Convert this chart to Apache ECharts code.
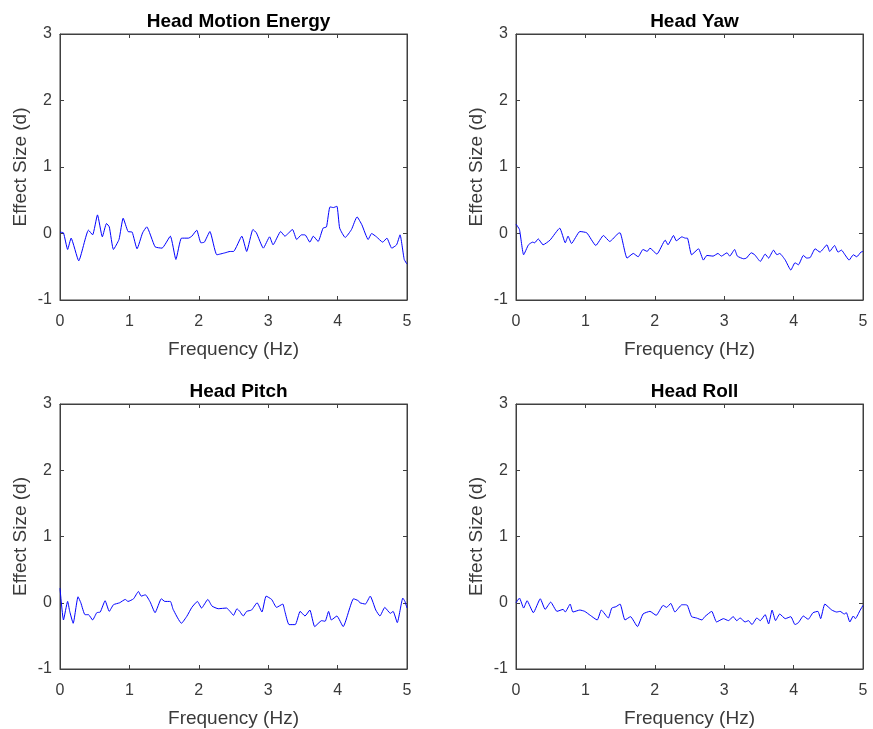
<!DOCTYPE html>
<html>
<head>
<meta charset="utf-8">
<script src="https://cdn.jsdelivr.net/npm/echarts@6/dist/echarts.min.js"></script>
<style>
  html, body { margin: 0; padding: 0; background: #fff; }
  #main { width: 873px; height: 729px; }
</style>
</head>
<body>
<div id="main"></div>
<script>
// panel titles
const titles = ['Head Motion Energy', 'Head Yaw', 'Head Pitch', 'Head Roll'];
const xTicks = [0, 1, 2, 3, 4, 5];
const yTicks = [-1, 0, 1, 2, 3];

// Head Motion Energy
const energyFreq = [0.00, 0.05, 0.11, 0.16, 0.27, 0.41, 0.47, 0.54, 0.61, 0.67, 0.71, 0.77, 0.85, 0.91, 0.98, 1.04, 1.11, 1.19, 1.25, 1.37, 1.47, 1.59, 1.67, 1.75, 1.85, 1.90, 1.97, 2.03, 2.08, 2.16, 2.26, 2.38,
  2.45, 2.50, 2.62, 2.69, 2.78, 2.83, 2.93, 3.02, 3.07, 3.18, 3.24, 3.35, 3.41, 3.48, 3.53, 3.60, 3.65, 3.72, 3.79, 3.84, 3.89, 3.94, 3.99, 4.03, 4.11, 4.20, 4.28, 4.35, 4.44, 4.49, 4.56, 4.65, 4.71, 4.78, 4.85, 4.90, 4.96, 5.00];
const energyD = [0.02, 0.01, -0.24, -0.07, -0.41, 0.05, -0.02, 0.28, -0.05, 0.15, 0.10, -0.24, -0.09, 0.23, 0.03, 0.02, -0.23, 0.01, 0.10, -0.20, -0.22, -0.04, -0.39, -0.07, -0.07, -0.04, 0.05, -0.14, -0.13, 0.03, -0.32, -0.29,
  -0.27, -0.27, -0.04, -0.27, 0.06, 0.01, -0.22, -0.05, -0.17, 0.03, -0.04, 0.06, -0.09, -0.02, -0.02, -0.13, -0.04, -0.12, 0.08, 0.10, 0.40, 0.39, 0.41, 0.08, -0.06, 0.06, 0.25, 0.13, -0.09, 0.00, -0.05, -0.13, -0.07, -0.22, -0.17, -0.02, -0.39, -0.46];

// Head Yaw
const yawFreq = [0.00, 0.05, 0.11, 0.18, 0.24, 0.27, 0.32, 0.39, 0.49, 0.63, 0.71, 0.75, 0.80, 0.92, 1.02, 1.15, 1.26, 1.35, 1.47, 1.50, 1.60, 1.69, 1.76, 1.83, 1.89, 1.93, 2.03, 2.15, 2.19, 2.27, 2.31, 2.39,
  2.44, 2.47, 2.53, 2.63, 2.70, 2.75, 2.84, 2.91, 2.96, 3.04, 3.08, 3.15, 3.19, 3.28, 3.32, 3.39, 3.44, 3.52, 3.59, 3.64, 3.71, 3.76, 3.80, 3.88, 3.96, 4.02, 4.07, 4.14, 4.19, 4.24, 4.31, 4.38, 4.48, 4.52, 4.59, 4.64, 4.69, 4.74, 4.80, 4.86, 4.91, 4.97, 5.00];
const yawD = [0.14, 0.06, -0.32, -0.17, -0.13, -0.14, -0.08, -0.17, -0.10, 0.08, -0.14, -0.04, -0.15, 0.03, 0.01, -0.18, -0.03, -0.12, 0.00, 0.01, -0.37, -0.30, -0.35, -0.24, -0.27, -0.22, -0.31, -0.10, -0.17, -0.03, -0.11, -0.05,
  -0.07, -0.07, -0.32, -0.23, -0.40, -0.33, -0.34, -0.30, -0.34, -0.29, -0.34, -0.24, -0.34, -0.38, -0.37, -0.29, -0.32, -0.42, -0.31, -0.37, -0.25, -0.32, -0.30, -0.40, -0.55, -0.44, -0.47, -0.33, -0.37, -0.36, -0.23, -0.28, -0.17, -0.27, -0.18, -0.28, -0.25, -0.32, -0.40, -0.32, -0.35, -0.28, -0.27];

// Head Pitch
const pitchFreq = [0.00, 0.05, 0.11, 0.14, 0.19, 0.26, 0.30, 0.36, 0.41, 0.47, 0.53, 0.58, 0.65, 0.71, 0.77, 0.86, 0.94, 0.98, 1.06, 1.13, 1.17, 1.23, 1.30, 1.37, 1.46, 1.51, 1.59, 1.63, 1.75, 1.83, 1.90, 1.98, 2.04, 2.13, 2.19, 2.28, 2.40,
  2.45, 2.50, 2.55, 2.59, 2.64, 2.69, 2.76, 2.84, 2.91, 2.97, 3.05, 3.12, 3.21, 3.24, 3.30, 3.39, 3.46, 3.53, 3.60, 3.67, 3.77, 3.82, 3.87, 3.91, 3.99, 4.08, 4.23, 4.30, 4.32, 4.40, 4.47, 4.55, 4.61, 4.68, 4.76, 4.80, 4.86, 4.94, 4.97, 5.00];
const pitchD = [0.22, -0.26, 0.02, -0.13, -0.31, 0.09, 0.00, -0.18, -0.18, -0.26, -0.15, -0.14, 0.03, -0.13, -0.03, 0.00, 0.05, 0.02, 0.06, 0.17, 0.10, 0.12, 0.01, -0.15, 0.06, 0.02, 0.02, -0.10, -0.31, -0.20, -0.07, 0.02, -0.08, 0.05, -0.05, -0.09, -0.08,
  -0.13, -0.19, -0.09, -0.13, -0.20, -0.13, -0.11, 0.00, -0.14, 0.10, 0.05, -0.07, -0.02, -0.13, -0.33, -0.33, -0.13, -0.20, -0.11, -0.36, -0.27, -0.28, -0.13, -0.26, -0.20, -0.36, 0.06, 0.03, 0.00, -0.02, 0.10, -0.11, -0.20, -0.07, -0.16, -0.13, -0.30, 0.07, 0.02, -0.08];

// Head Roll
const rollFreq = [0.00, 0.05, 0.11, 0.16, 0.25, 0.35, 0.42, 0.50, 0.59, 0.68, 0.71, 0.78, 0.82, 0.92, 0.99, 1.07, 1.17, 1.23, 1.33, 1.38, 1.44, 1.50, 1.57, 1.65, 1.75, 1.83, 1.93, 2.02, 2.12, 2.17, 2.23, 2.29, 2.39,
  2.44, 2.47, 2.53, 2.60, 2.68, 2.72, 2.82, 2.89, 2.99, 3.06, 3.13, 3.18, 3.23, 3.30, 3.35, 3.40, 3.47, 3.52, 3.59, 3.64, 3.69, 3.74, 3.80, 3.88, 3.96, 4.02, 4.07, 4.14, 4.21, 4.28, 4.35, 4.39, 4.45, 4.55, 4.62, 4.67, 4.73, 4.76, 4.81, 4.86, 4.89, 4.96, 5.00];
const rollD = [0.00, 0.07, -0.08, 0.03, -0.15, 0.06, -0.10, 0.01, -0.13, -0.10, -0.14, -0.02, -0.14, -0.11, -0.13, -0.19, -0.26, -0.11, -0.23, -0.08, -0.06, -0.02, -0.26, -0.21, -0.36, -0.17, -0.13, -0.19, -0.04, -0.07, -0.01, -0.14, -0.03,
  -0.03, -0.04, -0.21, -0.23, -0.26, -0.21, -0.13, -0.29, -0.24, -0.27, -0.21, -0.27, -0.23, -0.29, -0.27, -0.33, -0.23, -0.27, -0.18, -0.32, -0.11, -0.27, -0.17, -0.24, -0.21, -0.33, -0.30, -0.20, -0.25, -0.15, -0.13, -0.24, -0.02, -0.11, -0.14, -0.13, -0.17, -0.15, -0.29, -0.20, -0.24, -0.11, -0.04];

const freqs = [energyFreq, yawFreq, pitchFreq, rollFreq];
const vals = [energyD, yawD, pitchD, rollD];

// grid boxes (left, top)
const boxes = [[60, 34], [516, 34], [60, 404], [516, 404]];
const W = 347, H = 266;
const lineCol = '#404040';
const textCol = '#3a3a3a';
const font = 'Liberation Sans, Arial, Helvetica, sans-serif';

let grid = [], xAxis = [], yAxis = [], series = [], title = [];
boxes.forEach((b, i) => {
  grid.push({ left: b[0], top: b[1], width: W, height: H, show: true, borderColor: lineCol, borderWidth: 1, backgroundColor: '#fff' });
  title.push({
    text: titles[i], left: b[0] + W / 2, top: b[1] - 27, textAlign: 'center',
    textStyle: { fontSize: 19, fontWeight: 'bold', color: '#000', fontFamily: font }
  });
  // bottom / top x axes
  ['bottom', 'top'].forEach(pos => {
    xAxis.push({
      gridIndex: i, type: 'value', min: xTicks[0], max: xTicks[xTicks.length - 1], interval: 1, position: pos,
      name: pos === 'bottom' ? 'Frequency (Hz)' : '', nameLocation: 'middle', nameGap: 40,
      nameTextStyle: { fontSize: 19, color: textCol, fontFamily: font },
      axisLine: { show: true, onZero: false, lineStyle: { color: lineCol } },
      axisTick: { show: true, inside: true, length: 4, lineStyle: { color: lineCol } },
      axisLabel: { show: pos === 'bottom', fontSize: 16, color: textCol, fontFamily: font, margin: 14 },
      splitLine: { show: false }
    });
  });
  ['left', 'right'].forEach(pos => {
    yAxis.push({
      gridIndex: i, type: 'value', min: yTicks[0], max: yTicks[yTicks.length - 1], interval: 1, position: pos,
      name: pos === 'left' ? 'Effect Size (d)' : '', nameLocation: 'middle', nameGap: 30,
      nameTextStyle: { fontSize: 19, color: textCol, fontFamily: font },
      axisLine: { show: true, onZero: false, lineStyle: { color: lineCol } },
      axisTick: { show: true, inside: true, length: 4, lineStyle: { color: lineCol } },
      axisLabel: { show: pos === 'left', fontSize: 16, color: textCol, fontFamily: font, margin: 8 },
      splitLine: { show: false }
    });
  });
  series.push({
    type: 'line', xAxisIndex: i * 2, yAxisIndex: i * 2, showSymbol: false, smooth: 0.15,
    lineStyle: { color: '#0000ff', width: 1 },
    data: freqs[i].map((f, k) => [f, vals[i][k]]),
    animation: false
  });
});

const myChart = echarts.init(document.getElementById('main'));
myChart.setOption({ animation: false, backgroundColor: '#fff', title, grid, xAxis, yAxis, series });
</script>
</body>
</html>
